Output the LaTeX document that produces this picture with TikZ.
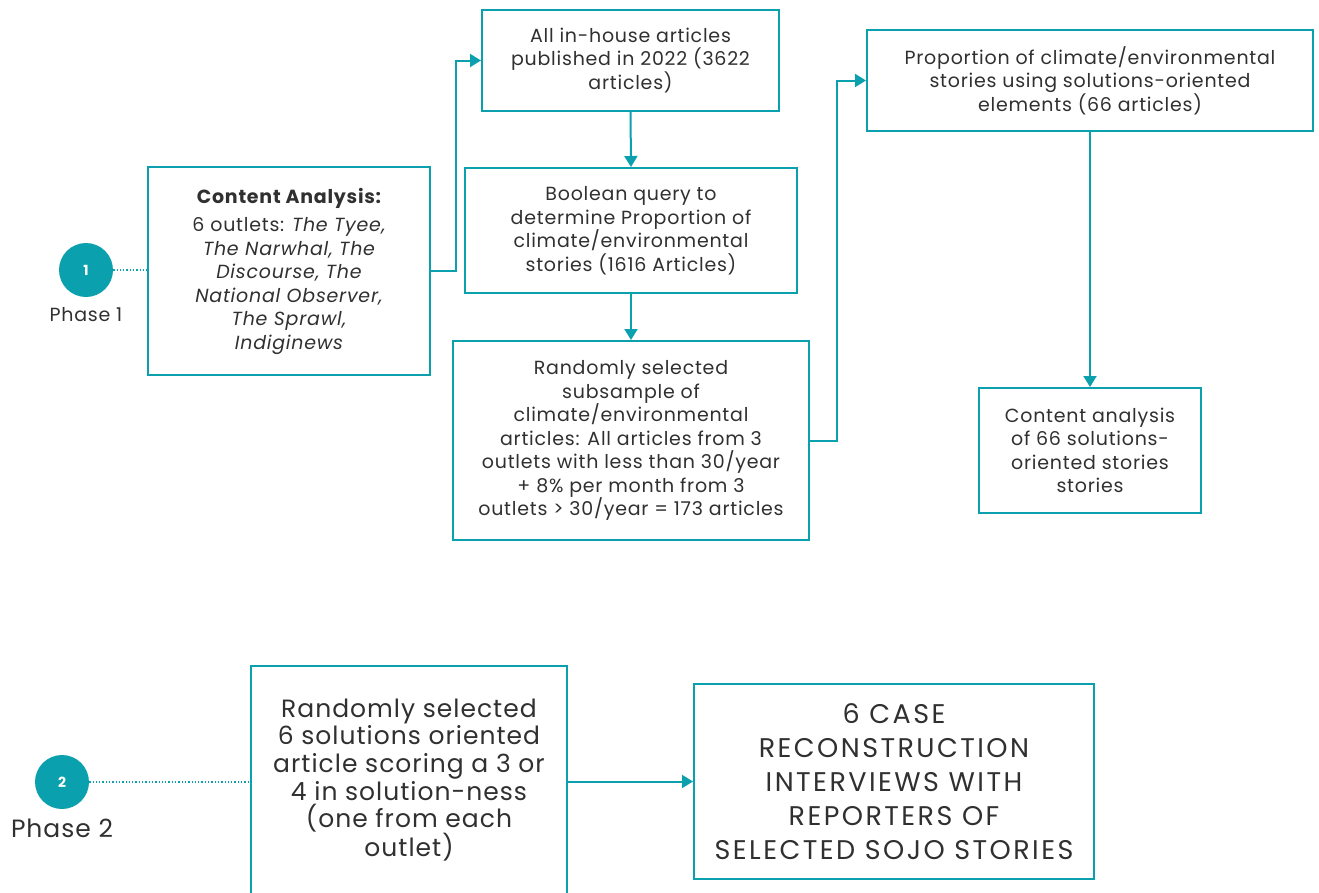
\documentclass[tikz,border=0pt]{standalone}
\usepackage{fontspec}
\setmainfont{Poppins}[LetterSpace=4]
\newfontfamily\capsfont{Poppins}[LetterSpace=9]
\usetikzlibrary{arrows.meta}
\definecolor{teal}{HTML}{0AA0AE}
\definecolor{txt}{HTML}{303030}
\tikzset{
  box/.style={draw=teal, line width=2pt, align=center, text=txt, inner sep=0pt, font=\fontsize{19}{23.5}\selectfont},
  bigbox/.style={draw=teal, line width=2pt, align=center, text=txt, inner sep=0pt, font=\fontsize{25}{27.6}\selectfont},
  capsbox/.style={draw=teal, line width=2pt, align=center, text=txt, inner sep=0pt, font=\capsfont\fontsize{27}{34}\selectfont},
  conn/.style={draw=teal, line width=2pt, -{Triangle[length=11pt,width=13pt]}},
  dots/.style={draw=teal, line width=1.3pt, dotted},
  phase/.style={circle, fill=teal, text=white, minimum size=54pt, inner sep=0pt, font=\fontsize{14}{15}\selectfont\bfseries},
  plabel/.style={text=txt}
}
\begin{document}
\begin{tikzpicture}[x=1pt,y=-1pt]
\useasboundingbox (0,0) rectangle (1319,892);
% Phase 1
\node[box, minimum width=282pt, minimum height=208pt] (ca) at (289,271)
  {{\bfseries Content Analysis:}\\[5pt]6 outlets: \itshape The Tyee,\\ \itshape The Narwhal, The\\ \itshape Discourse, The\\ \itshape National Observer,\\ \itshape The Sprawl,\\ \itshape Indiginews};
\node[box, minimum width=297pt, minimum height=101pt] (all) at (630.5,60.5)
  {All in-house articles\\published in 2022 (3622\\articles)};
\node[box, minimum width=332pt, minimum height=125pt] (bool) at (631,230.5)
  {Boolean query to\\determine Proportion of\\climate/environmental\\stories (1616 Articles)};
\node[box, minimum width=356pt, minimum height=199pt] (rand) at (631,440.5)
  {Randomly selected\\subsample of\\climate/environmental\\articles: All articles from 3\\outlets with less than 30/year\\+ 8\% per month from 3\\outlets > 30/year = 173 articles};
\node[box, minimum width=446pt, minimum height=101pt] (prop) at (1090,80.5)
  {Proportion of climate/environmental\\stories using solutions-oriented\\elements (66 articles)};
\node[box, minimum width=222pt, minimum height=125pt] (cont) at (1090,450.5)
  {Content analysis\\of 66 solutions-\\oriented stories\\stories};
\node[phase] (p1) at (86,270) {1};
\node[plabel, font=\fontsize{19}{20}\selectfont, anchor=north] (p1l) at (86,304) {Phase 1};
% Phase 2
\node[bigbox, minimum width=316pt, minimum height=228pt] (sel) at (409,780)
  {Randomly selected\\6 solutions oriented\\article scoring a 3 or\\4 in solution-ness\\(one from each\\outlet)};
\node[capsbox, minimum width=400pt, minimum height=195pt] (int) at (894,781.5)
  {6 CASE\\RECONSTRUCTION\\INTERVIEWS WITH\\REPORTERS OF\\SELECTED SOJO STORIES};
\node[phase] (p2) at (62,782) {2};
\node[plabel, font=\fontsize{25}{27}\selectfont, anchor=north] (p2l) at (62,815) {Phase 2};
% connectors
\coordinate (c1) at (456,0);
\draw[conn] (ca.east) -- (ca.east -| c1) |- (all.west);
\draw[conn] (all.south) -- (bool.north);
\draw[conn] (bool.south) -- (rand.north);
\coordinate (c2) at (837,0);
\draw[conn] (rand.east) -- (rand.east -| c2) |- (prop.west);
\draw[conn] (prop.south) -- (cont.north);
\draw[dots] (p1.east) -- (ca.west |- p1.east);
\draw[dots] (p2.east) -- (sel.west |- p2.east);
\draw[conn] (sel.east |- int.west) -- (int.west);
\end{tikzpicture}
\end{document}
